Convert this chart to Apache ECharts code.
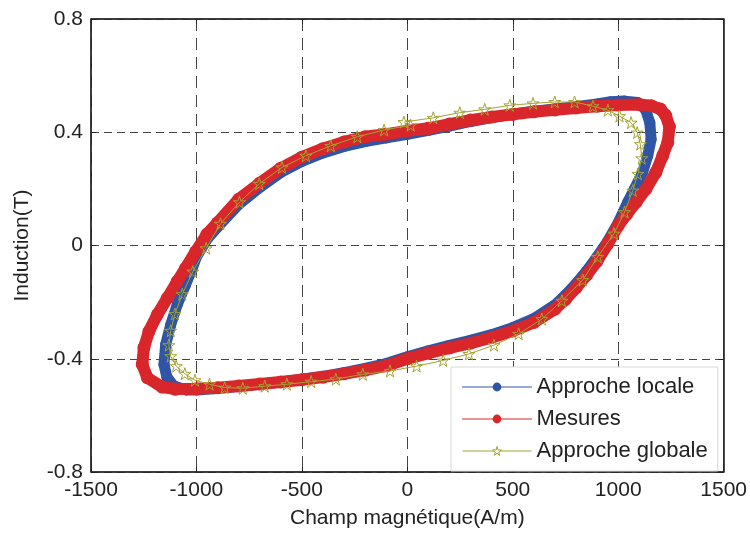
<!DOCTYPE html>
<html>
<head>
<meta charset="utf-8">
<script src="https://cdn.jsdelivr.net/npm/echarts@6/dist/echarts.min.js"></script>
<style>
html,body{margin:0;padding:0;background:#fff;}
#chart{width:750px;height:534px;}
</style>
</head>
<body>
<div id="chart"></div>
<script>
// ---- Data (H in A/m, B in T) ----
const xTicks = [-1500, -1000, -500, 0, 500, 1000, 1500];
const yTicks = [-0.8, -0.4, 0, 0.4, 0.8];

const seriesNames = ['Approche locale', 'Mesures', 'Approche globale'];

// Approche locale (blue)
const locH = [-1110,-1050,-1000,-900,-800,-700,-600,-500,-400,-300,-200,-100,0,100,200,300,400,500,600,700,750,800,850,900,950,1000,1045,1077,1116,1140,1156,1150,1130,1093,1030,965,900,800,700,600,500,400,300,200,100,0,-100,-200,-300,-400,-500,-600,-700,-800,-900,-950,-1000,-1020,-1052,-1091,-1122,-1146,-1154,-1140,-1110];
const locB = [-0.495,-0.51,-0.51,-0.505,-0.498,-0.49,-0.482,-0.472,-0.462,-0.449,-0.434,-0.417,-0.393,-0.372,-0.353,-0.335,-0.315,-0.29,-0.258,-0.21,-0.175,-0.135,-0.09,-0.04,0.015,0.08,0.153,0.2,0.259,0.317,0.375,0.434,0.48,0.505,0.51,0.508,0.5,0.49,0.482,0.474,0.464,0.452,0.438,0.422,0.407,0.393,0.38,0.367,0.35,0.327,0.297,0.258,0.205,0.145,0.065,0.022,-0.04,-0.081,-0.139,-0.209,-0.28,-0.35,-0.42,-0.465,-0.495];

// Mesures (red)
const mesH = [-1100,-1000,-900,-800,-700,-600,-500,-400,-300,-200,-100,0,100,200,300,400,500,600,700,750,800,850,900,950,1000,1040,1085,1132,1179,1211,1235,1243,1225,1200,1156,1100,1000,900,800,700,600,500,400,300,200,100,0,-100,-200,-300,-400,-500,-600,-700,-800,-900,-950,-1004,-1052,-1091,-1138,-1186,-1225,-1249,-1257,-1233,-1162,-1100];
const mesB = [-0.507,-0.506,-0.502,-0.496,-0.489,-0.482,-0.474,-0.465,-0.453,-0.44,-0.425,-0.4,-0.38,-0.362,-0.345,-0.325,-0.302,-0.272,-0.225,-0.19,-0.15,-0.105,-0.055,0.005,0.07,0.11,0.153,0.2,0.259,0.317,0.364,0.42,0.46,0.482,0.494,0.498,0.496,0.492,0.486,0.479,0.472,0.463,0.454,0.443,0.429,0.414,0.405,0.393,0.384,0.366,0.342,0.312,0.273,0.22,0.163,0.08,0.04,-0.022,-0.081,-0.127,-0.186,-0.245,-0.303,-0.361,-0.42,-0.467,-0.5,-0.507];

// Approche globale (olive stars)
const gloH = [-16,123,249,367,486,596,699,793,880,951,1006,1061,1090,1105,1112,1093,1069,1030,980,903,832,733,638,528,411,292,170,44,-82,-211,-339,-456,-571,-676,-780,-866,-938,-1007,-1055,-1096,-1122,-1131,-1122,-1102,-1067,-1017,-954,-886,-796,-702,-594,-481,-363,-237,-110,16];
const gloB = [0.436,0.451,0.469,0.481,0.495,0.502,0.507,0.507,0.492,0.478,0.457,0.434,0.399,0.358,0.308,0.253,0.194,0.118,0.042,-0.04,-0.122,-0.195,-0.26,-0.312,-0.352,-0.383,-0.406,-0.426,-0.443,-0.455,-0.472,-0.481,-0.49,-0.497,-0.504,-0.502,-0.49,-0.476,-0.453,-0.426,-0.391,-0.352,-0.301,-0.242,-0.172,-0.092,-0.01,0.077,0.153,0.218,0.276,0.317,0.352,0.384,0.408,0.425];

const zip = (a, b) => a.map((v, i) => [v, b[i]]);

const FONT = '"Liberation Sans", Arial, Helvetica, sans-serif';
const TXT = '#222';
const BLUE = '#2f55a4';
const RED = '#d9262b';
const OLIVE = '#a3a332';
const STAR = 'path://M50,2 L61.5,37 L98,37 L68.5,58.5 L79.5,94 L50,72 L20.5,94 L31.5,58.5 L2,37 L38.5,37 Z';

const chart = echarts.init(document.getElementById('chart'), null, {renderer: 'canvas'});

const gridRect = {left: 91, right: 24, top: 19, bottom: 59};
const plainNum = v => String(Math.round(v * 10) / 10);

chart.setOption({
  animation: false,
  backgroundColor: '#fff',
  grid: Object.assign({show: true, borderColor: '#222', borderWidth: 1, backgroundColor: '#fff'}, gridRect),
  xAxis: [{
    type: 'value', min: xTicks[0], max: xTicks[xTicks.length - 1], interval: 500,
    position: 'bottom',
    name: 'Champ magnétique(A/m)', nameLocation: 'middle', nameGap: 36,
    nameTextStyle: {fontFamily: FONT, fontSize: 21, color: TXT},
    axisLine: {show: true, onZero: false, lineStyle: {color: '#222', width: 1.5}},
    axisTick: {show: true, inside: true, length: 5, lineStyle: {color: '#222'}},
    axisLabel: {fontFamily: FONT, fontSize: 21, color: TXT, margin: 8, formatter: plainNum},
    splitLine: {show: true, lineStyle: {color: '#444', type: [12, 7], width: 1}}
  }, {
    type: 'value', min: xTicks[0], max: xTicks[xTicks.length - 1], interval: 500,
    position: 'top',
    axisLine: {show: true, onZero: false, lineStyle: {color: '#222', width: 1.5}},
    axisTick: {show: true, inside: true, length: 5, lineStyle: {color: '#222'}},
    axisLabel: {show: false},
    splitLine: {show: false}
  }],
  yAxis: [{
    type: 'value', min: yTicks[0], max: yTicks[yTicks.length - 1], interval: 0.4,
    position: 'left',
    name: 'Induction(T)', nameLocation: 'middle', nameGap: 58, nameRotate: 90,
    nameTextStyle: {fontFamily: FONT, fontSize: 21, color: TXT},
    axisLine: {show: true, onZero: false, lineStyle: {color: '#222', width: 1.5}},
    axisTick: {show: true, inside: true, length: 5, lineStyle: {color: '#222'}},
    axisLabel: {fontFamily: FONT, fontSize: 21, color: TXT, margin: 8, formatter: plainNum},
    splitLine: {show: true, lineStyle: {color: '#444', type: [8, 5], width: 1}}
  }, {
    type: 'value', min: yTicks[0], max: yTicks[yTicks.length - 1], interval: 0.4,
    position: 'right',
    axisLine: {show: true, onZero: false, lineStyle: {color: '#222', width: 1.5}},
    axisTick: {show: true, inside: true, length: 5, lineStyle: {color: '#222'}},
    axisLabel: {show: false},
    splitLine: {show: false}
  }],
  legend: {
    orient: 'vertical', left: 451, top: 367,
    padding: [9, 10, 9, 11], itemGap: 10,
    itemWidth: 69, itemHeight: 11,
    backgroundColor: '#fff', borderColor: '#d8d8d8', borderWidth: 1,
    textStyle: {fontFamily: FONT, fontSize: 22, color: TXT},
    lineStyle: {width: 1},
    data: [
      {name: seriesNames[0], itemStyle: {color: BLUE}, lineStyle: {color: BLUE, width: 1}},
      {name: seriesNames[1], itemStyle: {color: RED}, lineStyle: {color: RED, width: 1}},
      {name: seriesNames[2], itemStyle: {color: '#fff', borderColor: OLIVE, borderWidth: 1}, lineStyle: {color: OLIVE, width: 1}}
    ]
  },
  series: [{
    name: seriesNames[0], type: 'line', xAxisIndex: 0, yAxisIndex: 0,
    data: zip(locH, locB),
    symbol: 'circle', symbolSize: 11, showSymbol: true, showAllSymbol: true,
    lineStyle: {color: BLUE, width: 11, cap: 'round', join: 'round'},
    itemStyle: {color: BLUE},
    z: 2
  }, {
    name: seriesNames[1], type: 'line', xAxisIndex: 0, yAxisIndex: 0,
    data: zip(mesH, mesB),
    symbol: 'circle', symbolSize: 13, showSymbol: true, showAllSymbol: true,
    lineStyle: {color: RED, width: 12, cap: 'round', join: 'round'},
    itemStyle: {color: RED},
    z: 3
  }, {
    name: seriesNames[2], type: 'line', xAxisIndex: 0, yAxisIndex: 0,
    data: zip(gloH, gloB),
    symbol: STAR, symbolSize: 12, showSymbol: true, showAllSymbol: true,
    lineStyle: {color: OLIVE, width: 1},
    itemStyle: {color: 'rgba(255,255,255,0)', borderColor: OLIVE, borderWidth: 1},
    z: 4
  }]
});
</script>
</body>
</html>
